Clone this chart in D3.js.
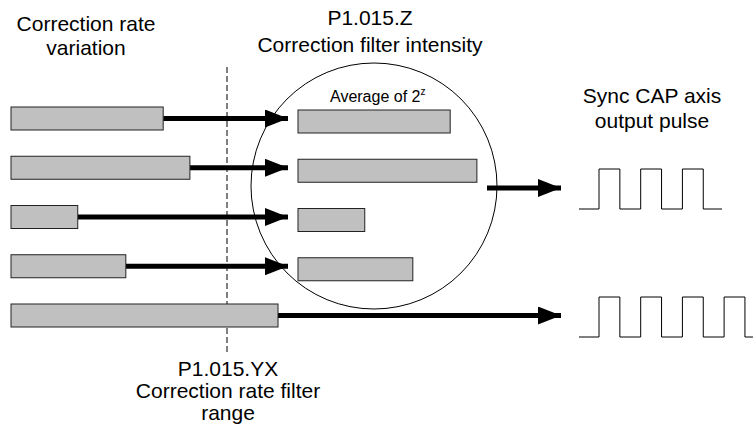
<!DOCTYPE html>
<html>
<head>
<meta charset="utf-8">
<script src="https://cdn.jsdelivr.net/npm/d3@7"></script>
<style>
	body { margin: 0; background: #ffffff; }
	svg text { font-family: "Liberation Sans", Arial, sans-serif; fill: #000000; }
</style>
</head>
<body>
<svg id="canvas" width="753" height="425"></svg>
<script>
// rows of the correction rate samples
var rows = ["s1", "s2", "s3", "s4", "s5"];
// correction rate variation (relative length, 100 = longest)
var rateValues = [57, 67, 25, 43, 100];
// rows that fall inside the filter range and go through the averaging
var filtered = [true, true, true, true, false];
// number of pulses in each output train (filtered, unfiltered)
var pulseCounts = [3, 4];

var labels = {
	input: ["Correction rate", "variation"],
	filter: ["P1.015.Z", "Correction filter intensity"],
	average: "Average of 2",
	output: ["Sync CAP axis", "output pulse"],
	range: ["P1.015.YX", "Correction rate filter", "range"]
};

function draw(){
	var svg = d3.select("#canvas");

	var x = d3.scaleLinear().domain([0, 100]).range([0, 267]);
	var y = d3.scalePoint().domain(rows).range([107, 304]);
	var barH = 23;
	var leftX = 11, rightX = 298, tipX = 288, farTip = 561;

	var defs = svg.append("defs");
	defs.append("marker")
		.attr("id", "head")
		.attr("viewBox", "0 0 23 18")
		.attr("refX", 23).attr("refY", 9)
		.attr("markerWidth", 23).attr("markerHeight", 18)
		.attr("markerUnits", "userSpaceOnUse")
		.attr("orient", "auto")
		.append("path")
		.attr("d", "M0,0 L23,9 L0,18 Z")
		.attr("fill", "#000");

	// filter circle
	svg.append("circle")
		.attr("cx", 374).attr("cy", 186).attr("r", 123)
		.attr("fill", "none").attr("stroke", "#000").attr("stroke-width", 1);

	// filter range line
	svg.append("line")
		.attr("x1", 227).attr("x2", 227).attr("y1", 67).attr("y2", 353)
		.attr("stroke", "#000").attr("stroke-width", 1)
		.attr("stroke-dasharray", "6,3");

	var data = rows.map(function(r, i){
		return {row: r, v: rateValues[i], f: filtered[i]};
	});

	// arrows from the input bars
	svg.selectAll("line.arrow")
		.data(data)
		.enter()
		.append("line")
		.attr("class", "arrow")
		.attr("x1", function(d){ return leftX + x(d.v); })
		.attr("x2", function(d){ return d.f ? tipX : farTip; })
		.attr("y1", function(d){ return y(d.row) + barH / 2; })
		.attr("y2", function(d){ return y(d.row) + barH / 2; })
		.attr("stroke", "#000").attr("stroke-width", 5)
		.attr("marker-end", "url(#head)");

	// input bars
	svg.selectAll("rect.input")
		.data(data)
		.enter()
		.append("rect")
		.attr("class", "input")
		.attr("x", leftX)
		.attr("y", function(d){ return y(d.row); })
		.attr("width", function(d){ return x(d.v); })
		.attr("height", barH)
		.attr("fill", "#c0c0c0").attr("stroke", "#222").attr("stroke-width", 1);

	// averaged bars inside the circle
	svg.selectAll("rect.avg")
		.data(data.filter(function(d){ return d.f; }))
		.enter()
		.append("rect")
		.attr("class", "avg")
		.attr("x", rightX)
		.attr("y", function(d){ return y(d.row) + 3; })
		.attr("width", function(d){ return x(d.v); })
		.attr("height", barH)
		.attr("fill", "#c0c0c0").attr("stroke", "#222").attr("stroke-width", 1);

	// output arrow from the circle
	svg.append("line")
		.attr("x1", 487).attr("x2", farTip).attr("y1", 188).attr("y2", 188)
		.attr("stroke", "#000").attr("stroke-width", 5)
		.attr("marker-end", "url(#head)");

	// pulse trains
	var trains = [{n: pulseCounts[0], low: 209, high: 169, end: 722},
		{n: pulseCounts[1], low: 337, high: 297, end: 760}];
	var px = d3.scaleLinear().domain([0, 1]).range([599, 640.7]);
	svg.selectAll("path.pulse")
		.data(trains)
		.enter()
		.append("path")
		.attr("class", "pulse")
		.attr("d", function(t){
			var pts = [[579, t.low]];
			for (var k = 0; k < t.n; k++){
				pts.push([px(k), t.low], [px(k), t.high], [px(k + 0.5), t.high], [px(k + 0.5), t.low]);
			}
			pts.push([t.end, t.low]);
			return d3.line()(pts);
		})
		.attr("fill", "none").attr("stroke", "#000").attr("stroke-width", 1);

	// texts
	function block(lines, cx, y0, dy, size){
		svg.append("text")
			.attr("text-anchor", "middle")
			.attr("font-size", size)
			.selectAll("tspan")
			.data(lines)
			.enter()
			.append("tspan")
			.attr("x", cx)
			.attr("y", function(d, i){ return y0 + i * dy; })
			.text(function(d){ return d; });
	}
	block(labels.input, 86, 31, 24, 21);
	block(labels.filter, 370, 25, 27, 21);
	block(labels.output, 652, 103, 25, 21);
	block(labels.range, 228, 376, 22, 21);

	var avg = svg.append("text")
		.attr("x", 330).attr("y", 102)
		.attr("font-size", 16);
	avg.append("tspan").text(labels.average);
	avg.append("tspan").attr("dy", -7).attr("font-size", 10).text("z");
}

draw();
</script>
</body>
</html>
